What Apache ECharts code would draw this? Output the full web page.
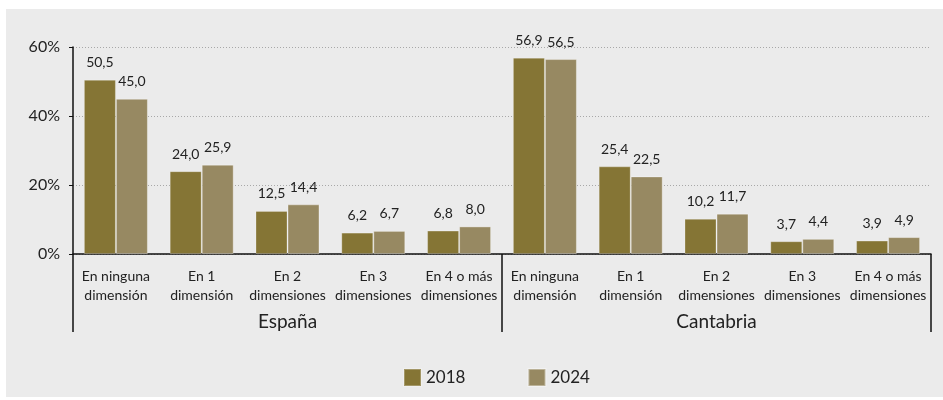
<!DOCTYPE html>
<html>
<head>
<meta charset="utf-8">
<script src="https://cdn.jsdelivr.net/npm/echarts@6/dist/echarts.min.js"></script>
<style>
  html, body { margin: 0; padding: 0; background: #ffffff; }
  #chart { width: 943px; height: 400px; }
</style>
</head>
<body>
<div id="chart"></div>
<script>
  // categorías y grupos
  var categorias = [
    'En ninguna\ndimensión', 'En 1\ndimensión', 'En 2\ndimensiones', 'En 3\ndimensiones', 'En 4 o más\ndimensiones',
    'En ninguna\ndimensión', 'En 1\ndimensión', 'En 2\ndimensiones', 'En 3\ndimensiones', 'En 4 o más\ndimensiones'
  ];
  var grupos = ['España', 'Cantabria'];
  var anios = ['2018', '2024'];

  // valores (%)
  var valores2018 = [50.5, 24.0, 12.5, 6.2, 6.8, 56.9, 25.4, 10.2, 3.7, 3.9];
  var valores2024 = [45.0, 25.9, 14.4, 6.7, 8.0, 56.5, 22.5, 11.7, 4.4, 4.9];

  var colores = ['#857535', '#978962'];
  var fuente = 'Lato';

  var chart = echarts.init(document.getElementById('chart'));

  function etiqueta(p) {
    return p.value.toFixed(1).replace('.', ',');
  }

  function serie(nombre, datos, color, borde) {
    return {
      name: nombre,
      type: 'bar',
      xAxisIndex: 0,
      data: datos,
      barWidth: 32,
      barGap: '0%',
      itemStyle: { color: color, borderColor: borde, borderWidth: 1 },
      label: {
        show: true,
        position: 'top',
        distance: 10,
        color: '#222',
        fontSize: 14,
        fontFamily: fuente,
        formatter: etiqueta
      }
    };
  }

  chart.setOption({
    backgroundColor: 'transparent',
    animation: false,
    graphic: [{
      type: 'rect',
      silent: true,
      z: -10,
      shape: { x: 6, y: 9, width: 937, height: 388 },
      style: { fill: '#ebebeb' }
    }],
    grid: { left: 73, right: 12, top: 47, bottom: 146 },
    legend: {
      data: anios,
      left: 398,
      top: 363,
      itemWidth: 17,
      itemHeight: 17,
      itemGap: 62,
      icon: 'rect',
      textStyle: { fontSize: 17, color: '#222', fontFamily: fuente }
    },
    xAxis: [{
      type: 'category',
      data: categorias,
      axisLine: { lineStyle: { color: '#111', width: 1.5 } },
      axisTick: { show: false },
      axisLabel: {
        interval: 0,
        color: '#222',
        fontSize: 14,
        fontFamily: fuente,
        lineHeight: 19,
        margin: 13
      }
    }, {
      type: 'category',
      data: grupos,
      position: 'bottom',
      axisLine: { show: false },
      axisTick: { show: true, length: 78, lineStyle: { color: '#111', width: 1.5 } },
      axisLabel: {
        color: '#222',
        fontSize: 19,
        fontFamily: fuente,
        margin: 58
      }
    }],
    yAxis: {
      type: 'value',
      min: 0,
      max: 60,
      interval: 20,
      axisLine: { show: true, lineStyle: { color: '#111', width: 1.5 } },
      axisTick: { show: true, length: 4, lineStyle: { color: '#111' } },
      axisLabel: {
        formatter: '{value}%',
        color: '#222',
        fontSize: 16,
        fontFamily: fuente,
        margin: 13
      },
      splitLine: { lineStyle: { color: '#a8a8a8', type: [1, 2] } }
    },
    series: [
      serie(anios[0], valores2018, colores[0], 'rgba(255,255,255,0.25)'),
      serie(anios[1], valores2024, colores[1], 'rgba(255,255,255,0.35)')
    ]
  });
</script>
</body>
</html>
